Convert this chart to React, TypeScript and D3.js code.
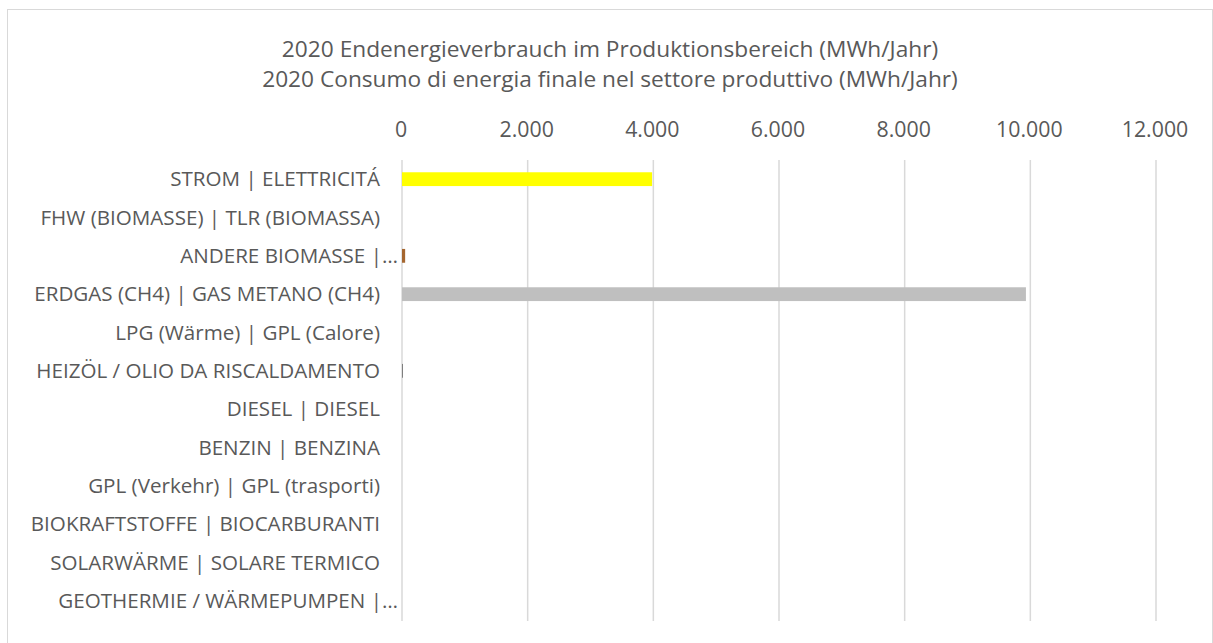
import React, { useEffect } from "react";
import * as d3 from "d3";

const categories = [
  "STROM | ELETTRICITÁ",
  "FHW (BIOMASSE) | TLR (BIOMASSA)",
  "ANDERE BIOMASSE |…",
  "ERDGAS (CH4) | GAS METANO (CH4)",
  "LPG (Wärme) | GPL (Calore)",
  "HEIZÖL / OLIO DA RISCALDAMENTO",
  "DIESEL | DIESEL",
  "BENZIN | BENZINA",
  "GPL (Verkehr) | GPL (trasporti)",
  "BIOKRAFTSTOFFE | BIOCARBURANTI",
  "SOLARWÄRME | SOLARE TERMICO",
  "GEOTHERMIE / WÄRMEPUMPEN |…",
];
const values = [3980, 0, 50, 9930, 0, 12, 0, 0, 0, 0, 0, 0];
const barColors = ["#FFFF00", "#4472C4", "#A5662F", "#BFBFBF", "#ED7D31", "#7F7F7F", "#5B9BD5", "#70AD47", "#264478", "#9E480E", "#636363", "#997300"];
const ticks = [0, 2000, 4000, 6000, 8000, 10000, 12000];
const titleLines = [
  "2020 Endenergieverbrauch im Produktionsbereich (MWh/Jahr)",
  "2020 Consumo di energia finale nel settore produttivo (MWh/Jahr)",
];

const W = 1213;
const H = 643;
const FONT = "'Open Sans', 'Noto Sans', sans-serif";
const TEXT = "#595959";

export default function App() {
  useEffect(() => {
    document.body.style.margin = "0";
  }, []);
  const x = d3.scaleLinear().domain([0, 12000]).range([402, 1156]);
  const y = d3.scaleBand<string>().domain(categories).range([160, 620]).paddingInner(0).paddingOuter(0);
  const bw = y.bandwidth();
  const barH = bw * 0.36;
  const fmt = (v: number) => d3.format(",")(v).replace(/,/g, ".");
  return (
    <svg width={W} height={H} style={{ display: "block", background: "#fff" }} fontFamily={FONT}>
      <rect x={7.5} y={9.5} width={1205} height={660} fill="#fff" stroke="#D9D9D9" strokeWidth={1} />
      {titleLines.map((t, i) => (
        <text key={i} x={610} y={57 + i * 29.5} textAnchor="middle" fontSize={22.7} fill={TEXT}>
          {t}
        </text>
      ))}
      {ticks.map((t) => (
        <g key={t}>
          <line x1={x(t)} x2={x(t)} y1={160} y2={621} stroke="#D9D9D9" strokeWidth={1.5} />
          <text x={x(t) - 1} y={137} textAnchor="middle" fontSize={21.3} fill={TEXT}>
            {fmt(t)}
          </text>
        </g>
      ))}
      {categories.map((c, i) => (
        <g key={c}>
          <text
            x={c.endsWith("…") ? 398 : 380}
            y={(y(c) as number) + bw / 2}
            dy="0.35em"
            textAnchor="end"
            fontSize={20.6}
            fill={TEXT}
          >
            {c}
          </text>
          {values[i] > 0 && (
            <rect
              x={x(0)}
              y={(y(c) as number) + (bw - barH) / 2}
              width={Math.max(1, x(values[i]) - x(0))}
              height={barH}
              fill={barColors[i]}
            />
          )}
        </g>
      ))}
    </svg>
  );
}
